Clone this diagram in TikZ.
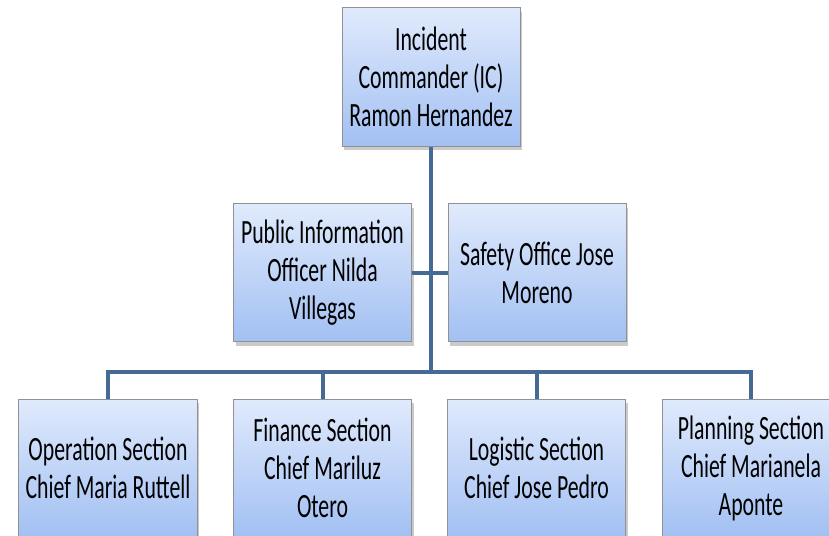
\documentclass[tikz,border=0pt]{standalone}
\usepackage{fontspec}
\setmainfont{Carlito}[FakeStretch=0.64]
\usepackage{xcolor}
\usetikzlibrary{calc, positioning, shadows}

\definecolor{linkblue}{RGB}{70,106,150}
\definecolor{boxtop}{RGB}{224,234,252}
\definecolor{boxbottom}{RGB}{162,192,243}
\definecolor{boxedge}{RGB}{145,145,145}

\begin{document}
\begin{tikzpicture}[x=0.5pt,y=-0.5pt,
		post/.style={draw=boxedge, line width=0.5pt, top color=boxtop, bottom color=boxbottom,
			minimum width=89pt, minimum height=69pt, align=center, text=black,
			font=\fontsize{17}{19}\selectfont,
			drop shadow={shadow xshift=1pt, shadow yshift=-2pt, opacity=0.35, fill=black!60}},
		link/.style={draw=linkblue, line width=2pt}]
				\useasboundingbox (0,0) rectangle (829,535);
				\clip (0,0) rectangle (829,535);
				% top
				\node[post] (ic) at (431,77) {Incident\\Commander (IC)\\Ramon Hernandez};
				% staff
				\node[post] (pio) at (322.5,272.5) {Public Information\\Officer Nilda\\Villegas};
				\node[post] (safe) at (537,272.5) {Safety Office Jose\\Moreno};
				% sections
				\node[post] (ops) at (108,468) {Operation Section\\Chief Maria Ruttell};
				\node[post] (fin) at (322.5,468) {Finance Section\\Chief Mariluz\\Otero};
				\node[post] (logi) at (536.5,468) {Logistic Section\\Chief Jose Pedro};
				\node[post] (plan) at (751,468) {Planning Section\\Chief Marianela\\Aponte};
				\coordinate (bar) at (430,372);
				
				\draw[link] (ic.south) -- (ic.south |- bar);
				\draw[link] (pio.east) -- (safe.west);
				\draw[link] (ops.north) |- (bar) -| (plan.north);
				\draw[link] (fin.north) -- (fin.north |- bar);
				\draw[link] (logi.north) -- (logi.north |- bar);
			\end{tikzpicture}
\end{document}
